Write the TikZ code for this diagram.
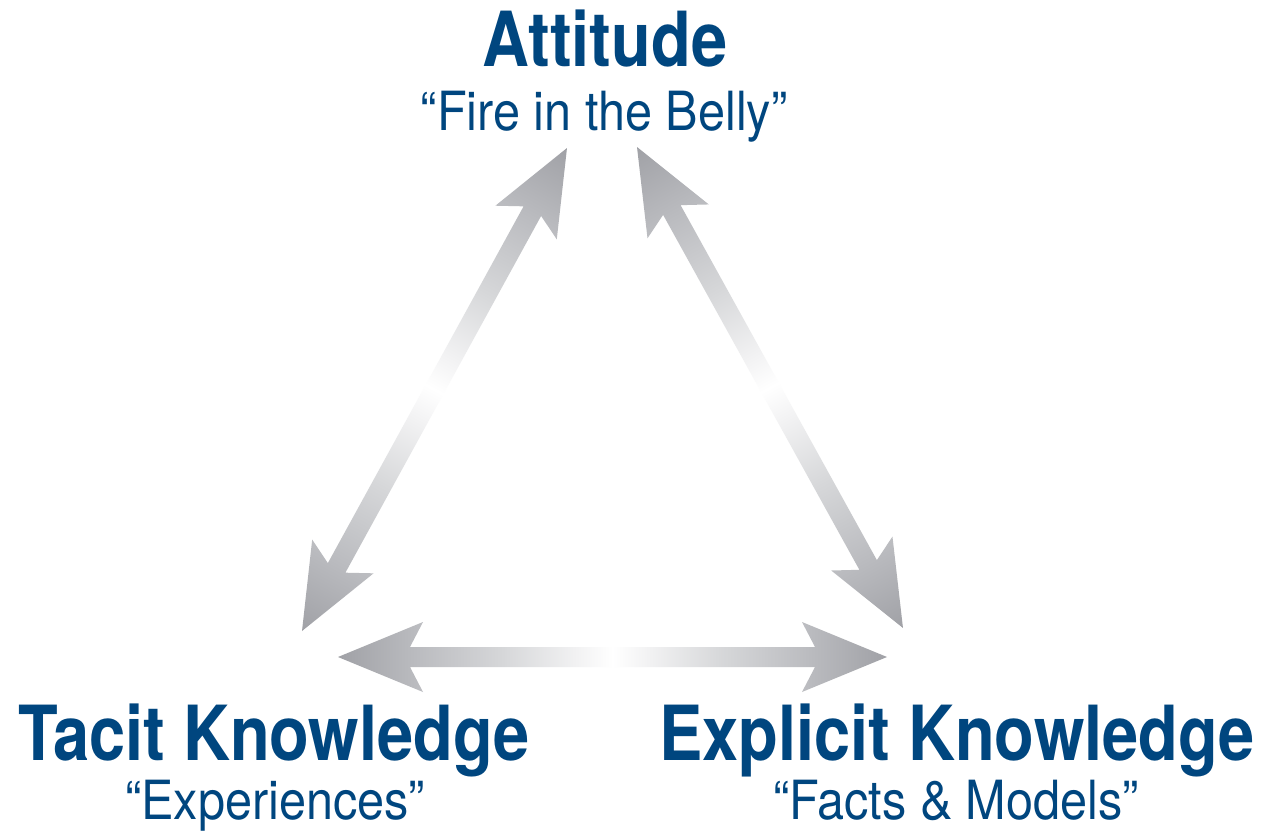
\documentclass[tikz,border=0pt]{standalone}
\usepackage{fontspec}
\setmainfont{TeX Gyre Heros}
\newfontfamily\headfont{TeX Gyre Heros}[FakeStretch=0.855]
\newfontfamily\subfont{TeX Gyre Heros}[FakeStretch=0.9]
\usetikzlibrary{calc}

\definecolor{kblue}{RGB}{0,70,127}
\definecolor{adark}{RGB}{160,161,166}
\definecolor{amid}{RGB}{186,187,191}
\definecolor{alight}{RGB}{214,215,217}
\definecolor{apale}{RGB}{243,243,244}

% grey-to-white fade along a double-headed arrow (path spans 25bp..75bp)
\pgfdeclarehorizontalshading{arrowfade}{100bp}{%
  color(0bp)=(adark); color(25bp)=(adark); color(32bp)=(amid);
  color(40bp)=(alight); color(47bp)=(apale); color(50bp)=(white);
  color(53bp)=(apale); color(60bp)=(alight); color(68bp)=(amid);
  color(75bp)=(adark); color(100bp)=(adark)}

\tikzset{
  title/.style={font=\headfont\bfseries\fontsize{76}{80}\selectfont,
                text=kblue, inner sep=0pt, anchor=base},
  subtitle/.style={font=\subfont\fontsize{54}{58}\selectfont,
                   text=kblue, inner sep=0pt, anchor=base},
}

% head length, head half width, notch depth, shaft half width (pt)
\newcommand\HeadLen{85}
\newcommand\HeadHalf{35}
\newcommand\HeadNotch{13}
\newcommand\ShaftHalf{10}

% double-headed shaded arrow between two named points
\newcommand\shadedlink[2]{%
  \pgfpointdiff{\pgfpointanchor{#1}{center}}{\pgfpointanchor{#2}{center}}%
  \pgfgetlastxy{\LinkDx}{\LinkDy}%
  \pgfmathsetmacro\LinkAng{atan2(\LinkDy,\LinkDx)}%
  \pgfmathsetmacro\LinkLen{veclen(\LinkDx,\LinkDy)}%
  \pgfmathsetmacro\NeckA{\HeadLen-\HeadNotch}%
  \pgfmathsetmacro\NeckB{\LinkLen-\HeadLen+\HeadNotch}%
  \pgfmathsetmacro\BarbB{\LinkLen-\HeadLen}%
  \begin{scope}[transform canvas={shift={(#1)},rotate=\LinkAng}]
    \shade[shading=arrowfade]
      (0pt,0pt) -- (\HeadLen pt,\HeadHalf pt) -- (\NeckA pt,\ShaftHalf pt)
      -- (\NeckB pt,\ShaftHalf pt) -- (\BarbB pt,\HeadHalf pt)
      -- (\LinkLen pt,0pt)
      -- (\BarbB pt,-\HeadHalf pt) -- (\NeckB pt,-\ShaftHalf pt)
      -- (\NeckA pt,-\ShaftHalf pt) -- (\HeadLen pt,-\HeadHalf pt) -- cycle;
  \end{scope}}

\begin{document}
\begin{tikzpicture}[x=1pt,y=-1pt]
  \useasboundingbox (0,0) rectangle (1268,832);
  \fill[white] (0,0) rectangle (1268,832);

  % labels
  \node[title]    (att)    at (605,67)  {Attitude};
  \node[subtitle] (attsub) at (604,131) {“Fire in the Belly”};
  \node[title]    (tac)    at (274,760) {Tacit Knowledge};
  \node[subtitle] (tacsub) at (275,819) {“Experiences”};
  \node[title]    (exp)    at (957,760) {Explicit Knowledge};
  \node[subtitle] (expsub) at (956,819) {“Facts \& Models”};

  % arrow tips
  \coordinate (topL) at (567,148);
  \coordinate (topR) at (637,147);
  \coordinate (lftU) at (302,631);
  \coordinate (lftH) at (338,657);
  \coordinate (rgtU) at (903,628);
  \coordinate (rgtH) at (887,657);

  % the three two-way links
  \shadedlink{lftU}{topL}
  \shadedlink{topR}{rgtU}
  \shadedlink{lftH}{rgtH}
\end{tikzpicture}
\end{document}
